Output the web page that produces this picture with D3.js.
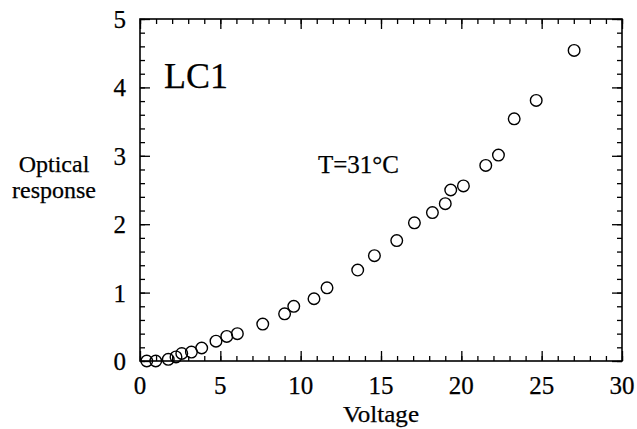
<!DOCTYPE html>
<html><head><meta charset="utf-8">
<script src="https://cdn.jsdelivr.net/npm/d3@7"></script>
<style>body{margin:0;background:#fff}svg{display:block}text{font-family:"Liberation Serif","Times New Roman",serif;fill:#000;stroke:#000;stroke-width:0.25}</style>
</head><body><svg id="c" width="637" height="429"></svg>
<script>
const voltage = [0.42,0.98,1.76,2.24,2.6,3.2,3.84,4.73,5.4,6.06,7.64,9.0,9.57,10.83,11.64,13.55,14.59,15.98,17.08,18.2,19.0,19.34,20.13,21.52,22.31,23.29,24.66,27.02];
const response = [0.0,0.0,0.025,0.06,0.11,0.13,0.19,0.29,0.36,0.40,0.54,0.69,0.80,0.91,1.07,1.33,1.54,1.76,2.02,2.17,2.30,2.50,2.56,2.86,3.01,3.54,3.81,4.54];
const xTicks = [0,5,10,15,20,25,30];
const yTicks = [0,1,2,3,4,5];
const xLabel = "Voltage";
const yLabel = ["Optical","response"];
const sampleLabel = "LC1";
const tempLabel = "T=31°C";

const L=140,R=622,T=19,B=361;
const svg=d3.select("#c");
const x=d3.scaleLinear().domain([0,30]).range([L,R]);
const y=d3.scaleLinear().domain([0,5]).range([B,T]);
const g=svg.append("g");
const xMinor=d3.range(0,31,1), yMinor=d3.range(0,5.01,0.2);
function ticks(axisGen, tr){
  const a=g.append("g").attr("transform",tr).call(axisGen);
  a.select(".domain").remove();
  a.selectAll("line").attr("stroke","#000").attr("stroke-width",1.3);
  return a;
}
ticks(d3.axisBottom(x).tickValues(xMinor).tickSize(-5).tickFormat(""),`translate(0,${B})`);
ticks(d3.axisBottom(x).tickValues(xTicks).tickSize(-10).tickFormat(""),`translate(0,${B})`);
ticks(d3.axisTop(x).tickValues(xMinor).tickSize(-5).tickFormat(""),`translate(0,${T})`);
ticks(d3.axisTop(x).tickValues(xTicks).tickSize(-10).tickFormat(""),`translate(0,${T})`);
ticks(d3.axisLeft(y).tickValues(yMinor).tickSize(-5).tickFormat(""),`translate(${L},0)`);
ticks(d3.axisLeft(y).tickValues(yTicks).tickSize(-10).tickFormat(""),`translate(${L},0)`);
ticks(d3.axisRight(y).tickValues(yMinor).tickSize(-5).tickFormat(""),`translate(${R},0)`);
ticks(d3.axisRight(y).tickValues(yTicks).tickSize(-10).tickFormat(""),`translate(${R},0)`);
g.append("rect").attr("x",L).attr("y",T).attr("width",R-L).attr("height",B-T).attr("fill","none").attr("stroke","#000").attr("stroke-width",1.6);

g.selectAll(".xl").data(xTicks).enter().append("text").attr("x",d=>x(d)).attr("y",B+33).attr("text-anchor","middle").attr("font-size",25).text(d=>d);
g.selectAll(".yl").data(yTicks).enter().append("text").attr("x",L-14).attr("y",d=>y(d)+9).attr("text-anchor","end").attr("font-size",25).text(d=>d);
g.append("text").attr("x",x(15)).attr("y",422).attr("text-anchor","middle").attr("font-size",24).attr("textLength",76).attr("lengthAdjust","spacingAndGlyphs").text(xLabel);
g.selectAll(".yt").data(yLabel).enter().append("text").attr("x",54).attr("y",(d,i)=>172+i*26).attr("text-anchor","middle").attr("font-size",24).text(d=>d);
g.append("text").attr("x",164).attr("y",88).attr("font-size",36).text(sampleLabel);
g.append("text").attr("x",318).attr("y",173).attr("font-size",25).text(tempLabel);

g.selectAll("circle").data(voltage.map((v,i)=>[v,response[i]])).enter().append("circle")
 .attr("cx",d=>x(d[0])).attr("cy",d=>y(d[1])).attr("r",5.8).attr("fill","none").attr("stroke","#000").attr("stroke-width",1.4);
</script></body></html>
